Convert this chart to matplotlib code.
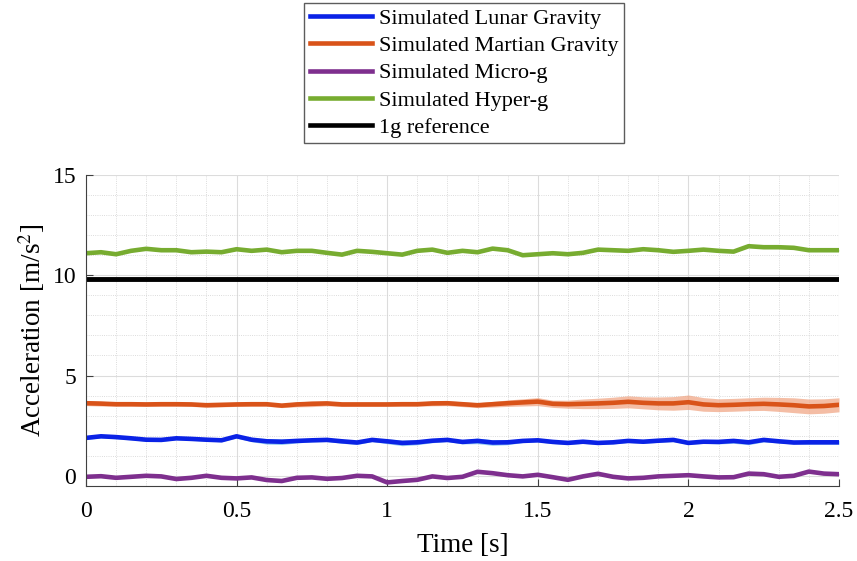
import numpy as np
import matplotlib
matplotlib.use("Agg")
import matplotlib.pyplot as plt
from matplotlib.ticker import MultipleLocator

plt.rcParams["font.family"] = ["Liberation Serif", "DejaVu Serif"]
plt.rcParams["mathtext.fontset"] = "stix"

# time base, 0.05 s steps
t = np.linspace(0, 2.5, 51)

# mean accelerations [m/s^2]
lunar = [1.89, 1.97, 1.93, 1.87, 1.80, 1.79, 1.87, 1.84, 1.80, 1.77,
         1.97, 1.80, 1.72, 1.70, 1.74, 1.77, 1.79, 1.72, 1.66, 1.79,
         1.72, 1.64, 1.67, 1.75, 1.79, 1.69, 1.74, 1.66, 1.67, 1.74,
         1.77, 1.69, 1.64, 1.70, 1.64, 1.67, 1.74, 1.70, 1.75, 1.79,
         1.64, 1.70, 1.69, 1.74, 1.67, 1.79, 1.72, 1.66, 1.67, 1.67, 1.67]
martian = [3.62, 3.60, 3.57, 3.57, 3.56, 3.57, 3.57, 3.56, 3.52, 3.54,
           3.56, 3.57, 3.57, 3.50, 3.56, 3.59, 3.61, 3.56, 3.56, 3.56,
           3.56, 3.57, 3.57, 3.61, 3.62, 3.57, 3.52, 3.57, 3.62, 3.66,
           3.70, 3.59, 3.57, 3.59, 3.61, 3.64, 3.69, 3.64, 3.61, 3.61,
           3.67, 3.56, 3.52, 3.54, 3.57, 3.59, 3.56, 3.52, 3.46, 3.48, 3.54]
micro = [-0.05, -0.02, -0.10, -0.05, 0.00, -0.03, -0.16, -0.10, 0.00, -0.10,
         -0.13, -0.08, -0.21, -0.26, -0.10, -0.08, -0.15, -0.11, 0.00, -0.03,
         -0.33, -0.26, -0.20, -0.03, -0.11, -0.05, 0.20, 0.13, 0.03, -0.03,
         0.05, -0.07, -0.20, -0.03, 0.10, -0.05, -0.13, -0.10, -0.03, 0.00,
         0.03, -0.03, -0.08, -0.07, 0.11, 0.08, -0.05, 0.00, 0.21, 0.11, 0.08]
hyper = [11.10, 11.15, 11.05, 11.22, 11.32, 11.25, 11.25, 11.15, 11.18, 11.15,
         11.30, 11.22, 11.28, 11.15, 11.22, 11.22, 11.12, 11.03, 11.22, 11.17,
         11.10, 11.03, 11.22, 11.28, 11.12, 11.22, 11.15, 11.33, 11.25, 11.00,
         11.05, 11.10, 11.05, 11.12, 11.28, 11.25, 11.22, 11.30, 11.25, 11.17,
         11.22, 11.28, 11.22, 11.18, 11.45, 11.40, 11.40, 11.37, 11.25, 11.25, 11.25]
g_ref = 9.81

# standard deviation bands
lunar_sd = [0.08, 0.08, 0.08, 0.08, 0.07, 0.07, 0.07, 0.07, 0.07, 0.07,
            0.08, 0.10, 0.14, 0.14, 0.10, 0.08, 0.08, 0.10, 0.10, 0.08,
            0.12, 0.14, 0.12, 0.10, 0.08, 0.10, 0.14, 0.14, 0.12, 0.08,
            0.08, 0.08, 0.08, 0.08, 0.08, 0.08, 0.08, 0.08, 0.08, 0.08,
            0.08, 0.08, 0.10, 0.12, 0.12, 0.10, 0.08, 0.08, 0.10, 0.10, 0.10]
martian_sd = [0.12, 0.12, 0.10, 0.10, 0.10, 0.10, 0.10, 0.10, 0.10, 0.10,
              0.10, 0.10, 0.10, 0.10, 0.12, 0.14, 0.12, 0.10, 0.10, 0.10,
              0.10, 0.10, 0.10, 0.12, 0.12, 0.12, 0.12, 0.14, 0.16, 0.18,
              0.20, 0.18, 0.20, 0.24, 0.26, 0.28, 0.30, 0.30, 0.32, 0.34,
              0.36, 0.34, 0.32, 0.32, 0.32, 0.33, 0.35, 0.37, 0.37, 0.36, 0.35]
micro_sd = [0.05] * 51
hyper_sd = [0.05] * 51

series = [
    ("Simulated Lunar Gravity", lunar, lunar_sd, "#0a22e6", "#6ab8ec"),
    ("Simulated Martian Gravity", martian, martian_sd, "#d95319", "#f0a27f"),
    ("Simulated Micro-g", micro, micro_sd, "#7e2f8e", "#c39ad0"),
    ("Simulated Hyper-g", hyper, hyper_sd, "#77ac30", "#bcd89a"),
]

fig = plt.figure(figsize=(8.57, 5.61), dpi=100)
ax = fig.add_axes([0.1003, 0.134, 0.8787, 0.554])

for name, m, sd, c, cf in series:
    m = np.array(m)
    sd = np.array(sd)
    ax.fill_between(t, m - sd, m + sd, color=cf, alpha=0.7, lw=0)
for name, m, sd, c, cf in series:
    ax.plot(t, m, color=c, lw=3.3, label=name, solid_joinstyle="round")
ax.plot([t[0], t[-1]], [g_ref, g_ref], color="black", lw=3.5, label="1g reference")

ax.set_xlim(0, 2.5)
ax.set_ylim(-0.5, 15)
ax.set_xticks([0, 0.5, 1, 1.5, 2, 2.5])
ax.set_xticklabels(["0", "0.5", "1", "1.5", "2", "2.5"])
ax.set_yticks([0, 5, 10, 15])
ax.xaxis.set_minor_locator(MultipleLocator(0.1))
ax.yaxis.set_minor_locator(MultipleLocator(1))
ax.grid(which="major", color="#dcdcdc", lw=0.8)
ax.grid(which="minor", color="#d0d0d0", lw=0.6, ls=":")
ax.set_axisbelow(True)
ax.tick_params(which="major", direction="in", length=5, width=0.8,
               color="#404040", labelsize=17)
ax.tick_params(axis="x", pad=11)
ax.tick_params(axis="y", pad=7)
ax.tick_params(which="minor", length=0)
for s in ["top", "right"]:
    ax.spines[s].set_visible(False)
for s in ["left", "bottom"]:
    ax.spines[s].set_color("#404040")
    ax.spines[s].set_linewidth(0.8)

ax.set_xlabel("Time [s]", fontsize=19.5, labelpad=8)
ax.set_ylabel("Acceleration [m/s$^2$]", fontsize=19.5, labelpad=4)

fig.legend(loc="upper center", bbox_to_anchor=(0.5414, 0.995), fontsize=16,
           frameon=True, fancybox=False, edgecolor="#333333",
           handlelength=2.8, handletextpad=0.3, labelspacing=0.3,
           borderpad=0.25, borderaxespad=0)
for line in fig.legends[0].get_lines():
    line.set_linewidth(3.3)

fig.savefig("out.png", dpi=100)
